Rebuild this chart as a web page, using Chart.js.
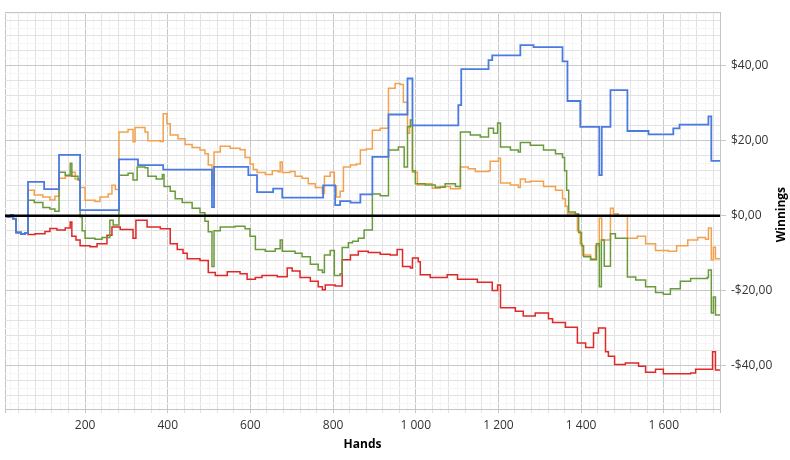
<!DOCTYPE html>
<html lang="en">
<head>
<meta charset="UTF-8">
<title>Winnings</title>
<script src="https://cdn.jsdelivr.net/npm/chart.js"></script>
<style>
  html, body { margin: 0; padding: 0; background: #fff; }
  canvas { display: block; }
</style>
</head>
<body>
<canvas id="graph" width="790" height="460"></canvas>
<script>
// [hand, winnings $], each point starts a new level
const showdownWon = [
  [6, 0], [12, -0.3], [20, 0.2], [26, -0.8], [33, -4.5], [45, -4.9], [55, -4.6],
  [62, 9.0], [101, 7.1], [137, 16.2], [188, 1.5], [282, 15.0], [328, 13.5], [389, 12.3],
  [507, 2.3], [512, 13.0], [595, 10.8], [616, 6.3], [655, 7.2], [677, 4.8], [776, 8.1],
  [805, 2.8], [817, 3.9], [842, 3.5], [866, 5.7], [895, 15.7], [934, 27.0], [980, 36.6],
  [992, 24.1], [1103, 29.5], [1110, 39.1], [1176, 41.5], [1185, 42.8], [1253, 45.5],
  [1285, 45.0], [1355, 41.2], [1367, 30.6], [1398, 23.7], [1444, 10.8], [1450, 23.7],
  [1471, 33.5], [1512, 22.6], [1563, 21.7], [1623, 23.3], [1638, 24.3], [1708, 26.5],
  [1715, 14.6], [1737, 14.6]
];

const netWon = [
  [6, 0], [12, -0.3], [20, 0.2], [26, -0.8], [33, -4.5], [45, -4.9], [55, -4.6],
  [62, 4.1], [77, 3.5], [98, 2.2], [115, 1.8], [127, 1.2], [137, 11.6], [152, 10.8],
  [164, 14.0], [168, 10.5], [183, 9.5], [188, -0.3], [193, -4.0], [200, -6.0], [224, -6.3],
  [241, -5.8], [260, -1.2], [268, -2.5], [282, 10.8], [304, 11.3], [316, 9.5], [326, 13.0],
  [345, 12.8], [352, 10.5], [372, 9.8], [387, 11.0], [391, 7.8], [406, 6.5], [418, 4.5],
  [435, 3.5], [459, 2.0], [478, 0.8], [490, -1.5], [498, -4.3], [507, -13.6], [512, -4.0],
  [527, -3.0], [563, -2.8], [587, -3.5], [599, -5.5], [612, -9.0], [636, -9.5], [660, -8.8],
  [672, -6.5], [677, -9.5], [708, -10.0], [725, -11.0], [745, -13.0], [764, -14.5],
  [774, -15.2], [779, -10.5], [793, -9.3], [803, -16.0], [817, -15.5], [822, -8.5],
  [837, -7.2], [847, -6.8], [861, -6.0], [875, -3.8], [895, 5.8], [914, 5.3], [934, 17.5],
  [958, 18.3], [972, 13.0], [980, 23.7], [987, 25.5], [992, 12.0], [999, 8.5], [1023, 8.2],
  [1047, 7.6], [1071, 8.5], [1096, 7.8], [1108, 22.3], [1132, 21.5], [1156, 21.0],
  [1176, 23.3], [1188, 22.0], [1198, 24.7], [1205, 18.3], [1229, 17.5], [1248, 17.0],
  [1253, 19.5], [1277, 18.8], [1309, 17.5], [1338, 16.5], [1355, 15.5], [1360, 12.0],
  [1365, 6.8], [1370, 1.0], [1386, 0.5], [1394, -4.5], [1401, -8.0], [1406, -11.0],
  [1423, -11.8], [1437, -7.5], [1444, -19.0], [1449, -6.5], [1456, -13.5], [1471, -4.8],
  [1483, -6.0], [1512, -16.4], [1532, -17.2], [1556, -19.0], [1580, -20.5], [1599, -21.0],
  [1616, -19.5], [1640, -17.5], [1665, -16.8], [1705, -16.5], [1708, -14.5], [1715, -26.0],
  [1720, -21.7], [1725, -26.5], [1737, -26.5]
];

const allInEv = [
  [6, 0], [12, -0.3], [20, 0.2], [26, -0.8], [33, -4.5], [45, -4.9], [55, -4.6],
  [62, 6.8], [77, 5.5], [98, 5.0], [115, 4.2], [127, 5.2], [137, 10.0], [152, 10.5],
  [168, 11.6], [176, 9.8], [188, 7.5], [200, 4.1], [224, 3.8], [236, 5.0], [256, 5.8],
  [265, 8.1], [273, 7.0], [282, 22.3], [304, 23.0], [316, 19.7], [321, 23.5], [345, 22.3],
  [352, 20.0], [382, 19.8], [389, 27.2], [398, 24.5], [406, 21.5], [425, 20.5], [442, 19.0],
  [459, 18.2], [478, 17.5], [490, 16.5], [498, 13.5], [507, 8.1], [512, 17.0], [527, 18.5],
  [551, 18.0], [575, 17.6], [587, 15.5], [599, 13.8], [607, 12.3], [616, 11.5], [636, 11.0],
  [653, 12.0], [667, 11.7], [672, 14.3], [677, 11.5], [696, 11.8], [708, 10.5], [725, 10.0],
  [740, 8.5], [757, 7.5], [774, 6.0], [779, 10.5], [793, 11.6], [803, 8.0], [808, 5.0],
  [817, 6.5], [825, 13.0], [842, 13.5], [856, 13.8], [866, 17.5], [880, 17.8], [895, 22.8],
  [914, 23.3], [934, 34.0], [950, 35.3], [962, 35.0], [970, 30.3], [980, 22.0], [985, 24.0],
  [992, 11.6], [1004, 8.2], [1023, 8.5], [1040, 7.3], [1059, 7.8], [1084, 7.2], [1108, 13.0],
  [1127, 12.5], [1144, 11.8], [1176, 12.0], [1180, 14.5], [1200, 15.3], [1205, 8.7],
  [1229, 8.2], [1248, 7.5], [1253, 9.8], [1265, 9.0], [1277, 9.2], [1309, 7.8], [1338, 6.8],
  [1355, 4.5], [1362, 2.5], [1367, 0.5], [1391, -4.0], [1398, -7.5], [1403, -10.5],
  [1423, -11.5], [1435, -8.0], [1444, -0.7], [1450, -6.5], [1466, -6.5], [1471, 2.0],
  [1478, 0.5], [1490, 0.0], [1512, -6.0], [1536, -5.5], [1556, -7.5], [1580, -9.3],
  [1611, -9.5], [1631, -8.0], [1658, -6.5], [1682, -5.8], [1701, -6.3], [1708, -3.3],
  [1715, -11.8], [1720, -8.4], [1725, -11.5], [1737, -11.5]
];

const nonShowdownWon = [
  [6, 0], [12, -0.3], [20, 0.2], [26, -0.8], [33, -4.5], [45, -4.9], [55, -4.6],
  [62, -5.0], [79, -4.8], [103, -4.2], [115, -3.4], [132, -3.8], [152, -3.3], [164, -1.7],
  [168, -5.5], [178, -6.5], [188, -8.0], [212, -8.3], [229, -7.5], [253, -5.2], [265, -3.0],
  [285, -3.7], [316, -6.0], [323, -1.2], [350, -3.0], [382, -3.5], [406, -7.5], [423, -9.0],
  [437, -10.0], [447, -11.5], [478, -12.0], [498, -15.2], [515, -16.0], [544, -15.0],
  [575, -15.5], [592, -17.0], [612, -16.5], [628, -16.0], [665, -16.3], [689, -14.0],
  [701, -14.8], [720, -16.5], [745, -17.5], [764, -19.0], [774, -19.8], [781, -18.5],
  [805, -18.8], [822, -11.8], [842, -10.5], [861, -9.5], [885, -9.8], [914, -10.3],
  [938, -10.5], [955, -9.0], [968, -13.6], [987, -14.0], [992, -11.3], [1006, -12.3],
  [1011, -15.8], [1035, -16.5], [1076, -15.8], [1101, -17.0], [1149, -17.8], [1185, -20.0],
  [1198, -18.5], [1205, -24.6], [1241, -25.5], [1260, -26.8], [1289, -26.0], [1321, -27.5],
  [1331, -28.5], [1362, -29.8], [1391, -34.0], [1411, -35.2], [1430, -31.3], [1442, -30.0],
  [1459, -36.3], [1466, -37.5], [1481, -39.7], [1507, -39.3], [1539, -40.2], [1556, -41.8],
  [1580, -41.0], [1599, -42.2], [1665, -42.0], [1677, -41.0], [1712, -41.0], [1718, -36.3],
  [1725, -41.2], [1737, -41.2]
];

const handRange = [6.3, 1736];
const winRange = [-51.6, 54.3];

function toPoints(series) {
  return series.map(([x, y]) => ({ x, y }));
}

function gridValues(min, max, step) {
  const ticks = [{ value: min }];
  for (let t = Math.ceil(min / step) * step; t < max; t += step) {
    if (t > min) ticks.push({ value: t });
  }
  ticks.push({ value: max });
  return ticks;
}

function gridColour(ctx, major, minor) {
  const v = ctx.tick.value;
  const n = ctx.chart.scales[ctx.scale.id].ticks.length;
  if (ctx.index === 0 || ctx.index === n - 1) return '#c4c4c4';
  if (v % major === 0) return '#c8c8c8';
  if (v % minor === 0) return '#e2e2e2';
  return '#f6f6f6';
}

const zeroLine = {
  id: 'zeroLine',
  afterDatasetsDraw(chart) {
    const { ctx, chartArea, scales } = chart;
    const y = scales.y.getPixelForValue(0);
    ctx.save();
    ctx.strokeStyle = '#000';
    ctx.lineWidth = 2.5;
    ctx.beginPath();
    ctx.moveTo(chartArea.left, y);
    ctx.lineTo(chartArea.right, y);
    ctx.stroke();
    ctx.restore();
  }
};

// right axis title reads bottom to top
const sideTitle = {
  id: 'sideTitle',
  afterDraw(chart) {
    const { ctx, chartArea } = chart;
    ctx.save();
    ctx.translate(782, (chartArea.top + chartArea.bottom) / 2 + 4);
    ctx.rotate(-Math.PI / 2);
    ctx.font = 'bold 12px "Open Sans", sans-serif';
    ctx.fillStyle = '#000';
    ctx.textAlign = 'center';
    ctx.textBaseline = 'middle';
    ctx.fillText('Winnings', 0, 0);
    ctx.restore();
  }
};

function line(label, series, colour, width) {
  return {
    label: label,
    data: toPoints(series),
    borderColor: colour,
    borderWidth: width,
    pointRadius: 0,
    stepped: true,
    fill: false
  };
}

new Chart(document.getElementById('graph'), {
  type: 'line',
  data: {
    datasets: [
      line('Won with showdown', showdownWon, '#4b7be0', 1.8),
      line('Net won', netWon, '#6b9a3c', 1.5),
      line('All-in EV', allInEv, '#f2a24e', 1.5),
      line('Won without showdown', nonShowdownWon, '#e02828', 1.5)
    ]
  },
  options: {
    responsive: false,
    animation: false,
    layout: { padding: { left: 5, top: 12, right: 0, bottom: 0 } },
    plugins: { legend: { display: false }, tooltip: { enabled: false } },
    scales: {
      x: {
        type: 'linear',
        min: handRange[0],
        max: handRange[1],
        afterBuildTicks: s => { s.ticks = gridValues(handRange[0], handRange[1], 20); },
        afterFit: s => { s.height = 51; },
        grid: {
          color: c => gridColour(c, 200, 40),
          tickLength: 4,
          lineWidth: 1
        },
        border: { color: '#c4c4c4' },
        ticks: {
          autoSkip: false,
          maxRotation: 0,
          padding: 5,
          color: '#333',
          font: { family: '"Open Sans", sans-serif', size: 12 },
          callback: v => (v % 200 === 0 && v > 0) ? String(v).replace(/\B(?=(\d{3})+$)/g, ' ') : ''
        },
        title: {
          display: true,
          text: 'Hands',
          color: '#000',
          font: { family: '"Open Sans", sans-serif', size: 12, weight: 'bold' },
          padding: { top: 0, bottom: 8 }
        }
      },
      y: {
        type: 'linear',
        position: 'right',
        min: winRange[0],
        max: winRange[1],
        afterBuildTicks: s => { s.ticks = gridValues(winRange[0], winRange[1], 2); },
        afterFit: s => { s.width = 70; },
        grid: {
          color: c => gridColour(c, 20, 4),
          tickColor: c => (c.tick.value % 20 === 0) ? '#c8c8c8' : 'rgba(0,0,0,0)',
          tickLength: 6,
          lineWidth: 1
        },
        border: { color: '#c4c4c4' },
        ticks: {
          autoSkip: false,
          padding: 5,
          color: '#333',
          font: { family: '"Open Sans", sans-serif', size: 12 },
          callback: v => {
            if (v % 20 !== 0) return '';
            const s = '$' + Math.abs(v).toFixed(2).replace('.', ',');
            return v < 0 ? '-' + s : s;
          }
        }
      }
    }
  },
  plugins: [zeroLine, sideTitle]
});
</script>
</body>
</html>
